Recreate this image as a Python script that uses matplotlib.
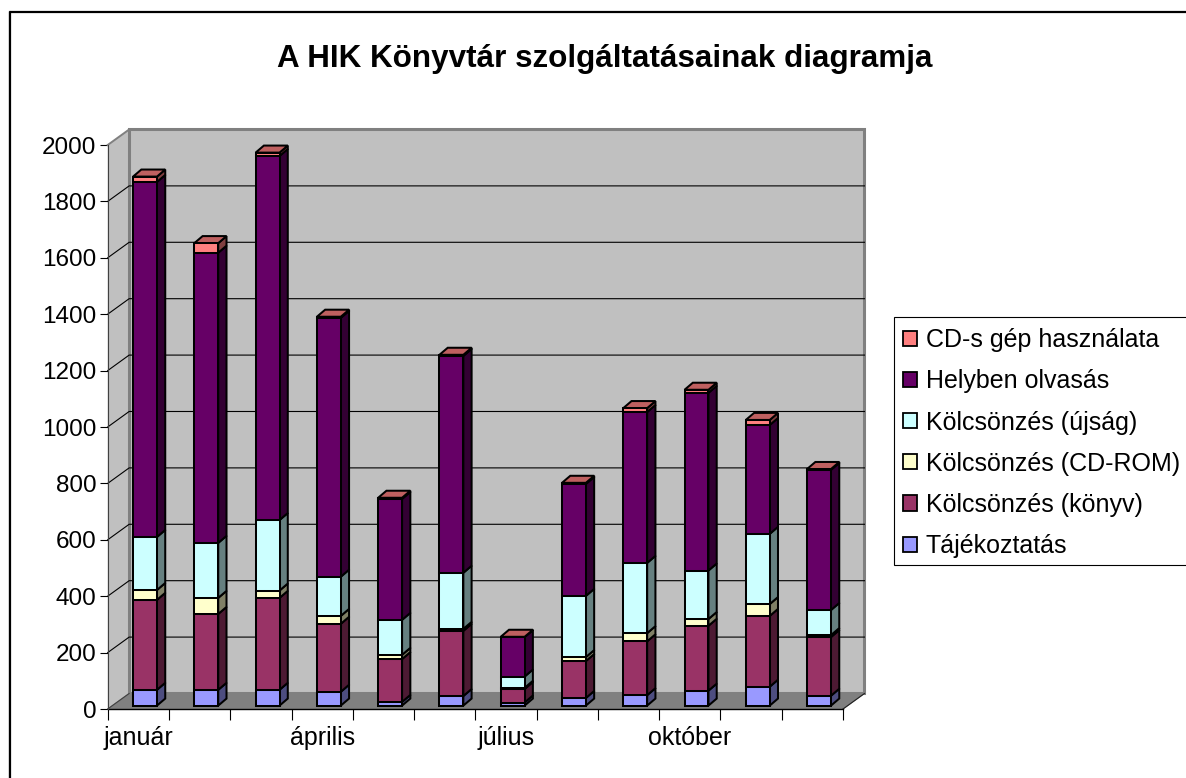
import matplotlib
matplotlib.use('Agg')
import matplotlib.pyplot as plt
from matplotlib.colors import to_rgb
from matplotlib.lines import Line2D
from matplotlib.patches import Polygon, Rectangle
import numpy as np

plt.rcParams['font.family'] = ['Liberation Sans', 'DejaVu Sans']

W, H = 1186, 778

months = ['január', '', '', 'április', '', '', 'július', '', '', 'október', '', '']
yticks = list(range(0, 2001, 200))

# bottom series first
series = ['Tájékoztatás', 'Kölcsönzés (könyv)', 'Kölcsönzés (CD-ROM)',
          'Kölcsönzés (újság)', 'Helyben olvasás', 'CD-s gép használata']
tajekoztatas = [56, 56, 56, 49, 13, 34, 11, 27, 37, 53, 67, 35]
konyv = [319, 269, 326, 241, 152, 231, 48, 131, 191, 230, 251, 208]
cdrom = [35, 57, 26, 28, 15, 7, 4, 14, 29, 24, 42, 7]
ujsag = [188, 195, 250, 139, 124, 199, 40, 217, 249, 172, 249, 89]
helyben = [1259, 1029, 1291, 918, 429, 769, 140, 397, 535, 630, 386, 497]
cdgep = [19, 34, 12, 4, 4, 4, 1, 4, 14, 11, 18, 3]
values = [tajekoztatas, konyv, cdrom, ujsag, helyben, cdgep]
colors = ['#9999FF', '#993366', '#FFFFCC', '#CCFFFF', '#660066', '#FF8080']

# depth of the walls and of the bars, in data units
WALL_DX = 0.35
WALL_DY = 55
BAR_DX = 0.135
BAR_DY = 25
BAR_X = 0.109
BAR_Y = 12
BAR_W = 0.39
LW = 1.45


def shade(c, f):
    return tuple(v * f for v in to_rgb(c))


fig = plt.figure(figsize=(W / 100, H / 100), dpi=100)
ax = fig.add_axes([107.7 / W, 1 - 709 / H, (843 - 107.7) / W, (709 - 145) / H])
ax.set_xlim(0, 12)
ax.set_ylim(0, 2000)
ax.patch.set_visible(False)
for s in ax.spines.values():
    s.set_visible(False)

# outer frame, only left and top are inside the picture
fig.add_artist(Line2D([8.5 / W, 8.5 / W], [0, 1 - 11 / H], color='#A0A0A0', lw=1))
fig.add_artist(Line2D([10 / W, 10 / W, 1], [0, 1 - 12 / H, 1 - 12 / H], color='black', lw=1.6))

# walls and floor
ax.add_patch(Polygon([(0, 0), (WALL_DX, WALL_DY), (WALL_DX, 2000 + WALL_DY), (0, 2000)],
                     fc='#C0C0C0', ec='none', clip_on=False, zorder=1))
ax.add_patch(Rectangle((WALL_DX, WALL_DY), 12, 2000, fc='#C0C0C0', ec='#808080', lw=2.2,
                       clip_on=False, zorder=1))
ax.add_patch(Polygon([(0, 0), (12, 0), (12 + WALL_DX, WALL_DY), (WALL_DX, WALL_DY)],
                     fc='#808080', ec='#808080', lw=0.8, clip_on=False, zorder=1.5))
for v in yticks[1:-1]:
    ax.plot([0, WALL_DX, 12 + WALL_DX], [v, v + WALL_DY, v + WALL_DY], color='black', lw=0.8,
            clip_on=False, zorder=2)
ax.plot([0, WALL_DX], [2000, 2000 + WALL_DY], color='#808080', lw=1.4, clip_on=False, zorder=2)
ax.plot([0, WALL_DX], [0, WALL_DY], color='#404040', lw=0.8, clip_on=False, zorder=2)
ax.plot([12, 12 + WALL_DX], [0, WALL_DY], color='#202020', lw=0.8, clip_on=False, zorder=2)
ax.plot([0, 12], [0, 0], color='black', lw=1, clip_on=False, zorder=2)
ax.plot([0, 0], [0, 2000], color='#404040', lw=0.8, clip_on=False, zorder=2)

# stacked bars, front face with ax.bar, side and top from the same values
x = np.arange(12) + 0.5 + BAR_X
bottom = np.zeros(12) + BAR_Y
tops = []
for vals, col, name in zip(values, colors, series):
    vals = np.array(vals)
    ax.bar(x, vals, BAR_W, bottom=bottom, color=col, edgecolor='black', lw=LW, clip_on=False,
           zorder=4)
    top = bottom + vals
    for xi, b, t in zip(x, bottom, top):
        r = xi + BAR_W / 2
        ax.add_patch(Polygon([(r, b), (r + BAR_DX, b + BAR_DY), (r + BAR_DX, t + BAR_DY), (r, t)],
                             fc=shade(col, 0.5), ec='black', lw=LW, clip_on=False, zorder=3))
    tops.append(top)
    bottom = top

# cap of every column takes the colour of the last series, as in the reference
for xi, t in zip(x, tops[-1]):
    l, r = xi - BAR_W / 2, xi + BAR_W / 2
    ax.add_patch(Polygon([(l, t), (r, t), (r + BAR_DX, t + BAR_DY), (l + BAR_DX, t + BAR_DY)],
                         fc=shade(colors[-1], 0.75), ec='black', lw=LW, clip_on=False, zorder=3.5))

ax.set_xticks(range(13))
ax.set_xticklabels([])
ax.set_yticks(yticks)
ax.tick_params(axis='y', length=6, width=0.8, labelsize=17.5, pad=2)
ax.tick_params(axis='x', length=8, width=0.8)
for i, m in enumerate(months):
    if m:
        ax.text(i + 0.5, -103, m, ha='center', va='center', fontsize=18, clip_on=False)

fig.text(604.5 / W, 1 - 59 / H, 'A HIK Könyvtár szolgáltatásainak diagramja', ha='center', va='center',
         fontsize=22.6, fontweight='bold')

# legend box runs off the right edge of the picture, so the frame is its own patch
fig.add_artist(Rectangle((893.5 / W, 1 - 564.5 / H), 300 / W, 247.5 / H, transform=fig.transFigure,
                         fc='white', ec='black', lw=0.8))
handles = [Rectangle((0, 0), 1, 1, fc=c, ec='black', lw=1.3) for c in colors[::-1]]
leg = fig.legend(handles, series[::-1], loc='upper left', bbox_to_anchor=(893.5 / W, 1 - 319 / H),
                 bbox_transform=fig.transFigure, fontsize=18, frameon=False, borderaxespad=0,
                 handlelength=0.56, handleheight=0.56, handletextpad=0.36, labelspacing=0.686,
                 borderpad=0.37)

plt.savefig('out.png', dpi=100)
